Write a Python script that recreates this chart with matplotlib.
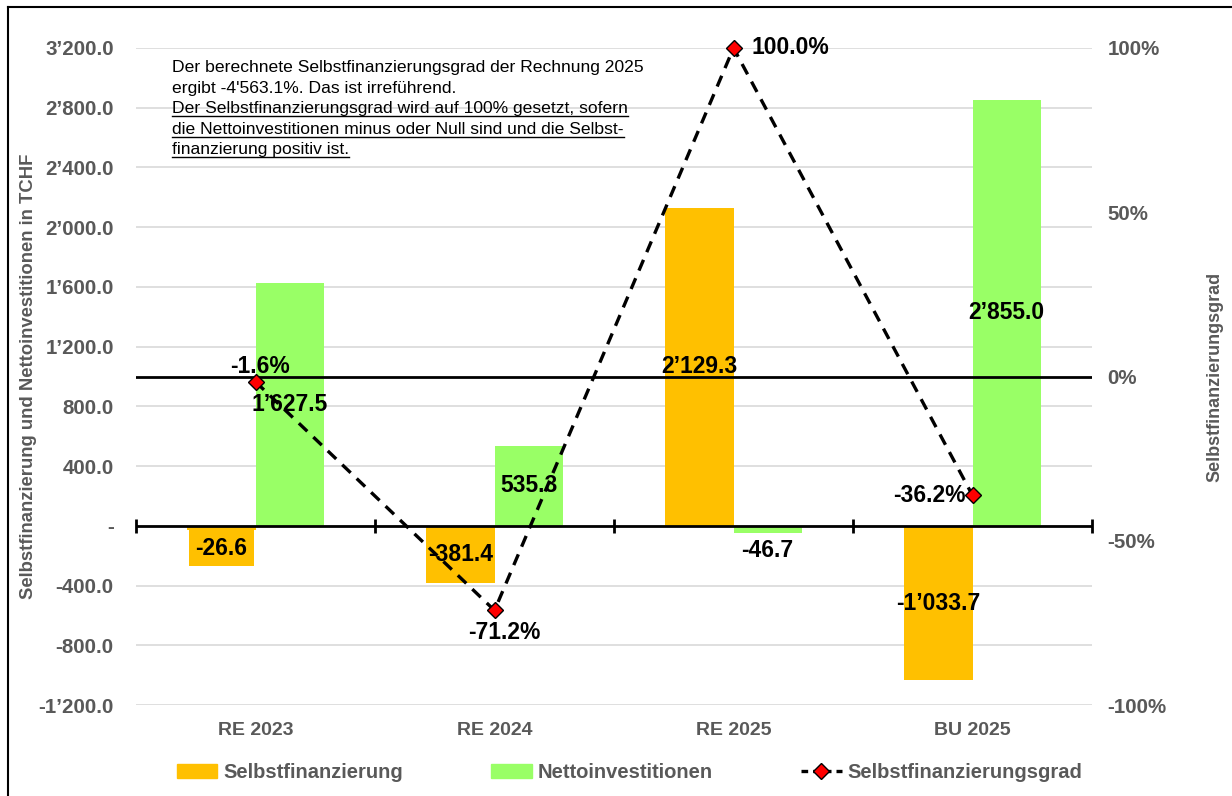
import matplotlib
matplotlib.use("Agg")
import numpy as np
import matplotlib.pyplot as plt
from matplotlib.lines import Line2D
from matplotlib.patches import Patch

plt.rcParams['font.family'] = ['Liberation Sans', 'DejaVu Sans']

# data
years = ['RE 2023', 'RE 2024', 'RE 2025', 'BU 2025']
selbst = [-26.6, -381.4, 2129.3, -1033.7]      # Selbstfinanzierung (TCHF)
netto = [1627.5, 535.3, -46.7, 2855.0]          # Nettoinvestitionen (TCHF)
grad = [-1.6, -71.2, 100.0, -36.2]              # Selbstfinanzierungsgrad (%)

left_ticks = [-1200, -800, -400, 0, 400, 800, 1200, 1600, 2000, 2400, 2800, 3200]
right_ticks = [-100, -50, 0, 50, 100]

note_lines = [
    "Der berechnete Selbstfinanzierungsgrad der Rechnung 2025",
    "ergibt -4'563.1%. Das ist irreführend.",
    "Der Selbstfinanzierungsgrad wird auf 100% gesetzt, sofern",
    "die Nettoinvestitionen minus oder Null sind und die Selbst-",
    "finanzierung positiv ist.",
]

ORANGE = '#FFC000'
GREEN = '#99FF66'
GREY = '#595959'


def chf(v):
    if v == 0:
        return '-'
    return f"{v:,.1f}".replace(',', '\u2019')


fig = plt.figure(figsize=(12.32, 7.96), dpi=100)
ax = fig.add_axes([0.1104, 0.1143, 0.7760, 0.8254])

x = np.arange(len(years))
w = 0.285
ax.bar(x - w / 2, selbst, w, color=ORANGE, zorder=2)
ax.bar(x + w / 2, netto, w, color=GREEN, zorder=2)

ax.set_xlim(-0.5, len(years) - 0.5)
ax.set_ylim(-1200, 3200)
ax.set_yticks(left_ticks)
ax.set_yticklabels([chf(v) for v in left_ticks])
ax.set_xticks(x)
ax.set_xticklabels(years)
ax.grid(axis='y', color='#d9d9d9', lw=1.2, zorder=0)
ax.set_axisbelow(True)
for s in ax.spines.values():
    s.set_visible(False)
ax.tick_params(axis='y', length=0, pad=16, labelsize=14.8, labelcolor=GREY)
ax.tick_params(axis='x', length=0, pad=12, labelsize=14, labelcolor=GREY)
for t in ax.get_xticklabels() + ax.get_yticklabels():
    t.set_fontweight('bold')

# category axis at zero with separators
ax.axhline(0, color='black', lw=2, zorder=3)
bounds = np.arange(len(years) + 1) - 0.5
ax.plot(bounds, np.zeros(len(bounds)), ls='none', marker='|', ms=10,
        mew=2, color='black', zorder=3, clip_on=False)

ax.set_ylabel('Selbstfinanzierung und Nettoinvestitionen in TCHF',
              fontsize=13.3, fontweight='bold', color=GREY)
ax.yaxis.set_label_coords(-0.104, 0.5)

# bar labels
for i in range(len(years)):
    for vals, dx, fc in ((selbst, -w / 2, ORANGE), (netto, w / 2, None)):
        v = vals[i]
        if abs(v) < 100:
            off = -16 if fc else -18
            bb = dict(boxstyle='square,pad=0.3', fc=fc, ec='none') if fc else None
            ax.annotate(chf(v), (x[i] + dx, 0), xytext=(0, off),
                        textcoords='offset points', ha='center', va='center',
                        fontsize=16.5, fontweight='bold', bbox=bb, zorder=4)
        else:
            ax.text(x[i] + dx, v / 2, chf(v), ha='center', va='center',
                    fontsize=16.5, fontweight='bold', zorder=4)

# secondary axis with the ratio
ax2 = ax.twinx()
ax2.set_ylim(-100, 100)
ax2.set_yticks(right_ticks)
ax2.set_yticklabels([f"{v}%" for v in right_ticks])
for s in ax2.spines.values():
    s.set_visible(False)
ax2.tick_params(axis='y', length=0, pad=11, labelsize=14.8, labelcolor=GREY)
for t in ax2.get_yticklabels():
    t.set_fontweight('bold')
ax2.axhline(0, color='black', lw=2, zorder=1)
ax2.plot(x, grad, color='black', ls=(0, (3.5, 2.5)), lw=2.4, marker='D',
         ms=8, mfc='red', mec='black', mew=1, zorder=5, clip_on=False)
ax2.set_ylabel('Selbstfinanzierungsgrad', fontsize=13, fontweight='bold',
               color=GREY)
ax2.yaxis.set_label_coords(1.12, 0.5)

pct_offsets = [(3, 11, 'center'), (7, -16, 'center'), (13, 0, 'left'), (-5, 0, 'right')]
for i, g in enumerate(grad):
    dx, dy, ha = pct_offsets[i]
    ax2.annotate(f"{g:.1f}%", (x[i], g), xytext=(dx, dy), textcoords='offset points',
                 ha=ha, va='center', fontsize=16.5, fontweight='bold', zorder=6)

# note text, last three lines underlined
baselines = [72, 92.5, 113, 133.5, 154]
note_texts = []
for k, line in enumerate(note_lines):
    t = fig.text(172 / 1232, 1 - baselines[k] / 796, line, fontsize=12.6,
                 ha='left', va='baseline', color='black')
    note_texts.append(t)
fig.canvas.draw()
r = fig.canvas.get_renderer()
for t, b in zip(note_texts[2:], baselines[2:]):
    bb = t.get_window_extent(r)
    yy = 1 - (b + 3) / 796
    fig.add_artist(Line2D([bb.x0 / 1232, bb.x1 / 1232], [yy, yy],
                          color='black', lw=1))

# frame lines (top, left)
fig.add_artist(Line2D([8 / 1232, 1], [1 - 7 / 796, 1 - 7 / 796], color='black', lw=1.5))
fig.add_artist(Line2D([8 / 1232, 8 / 1232], [0, 1 - 7 / 796], color='black', lw=1.5))

handles = [
    Patch(color=ORANGE, label='Selbstfinanzierung'),
    Patch(color=GREEN, label='Nettoinvestitionen'),
    Line2D([], [], color='black', ls=(0, (2, 1.5)), lw=2.4, marker='D', ms=8,
           mfc='red', mec='black', mew=1, label='Selbstfinanzierungsgrad'),
]
leg = fig.legend(handles=handles, loc='center', bbox_to_anchor=(0.511, 0.029),
                 ncol=3, frameon=False, handlelength=2.0,
                 handleheight=0.7, handletextpad=0.3, columnspacing=4.4,
                 prop={'weight': 'bold', 'size': 14.5})
for t in leg.get_texts():
    t.set_color(GREY)

fig.savefig('out.png', dpi=100)
